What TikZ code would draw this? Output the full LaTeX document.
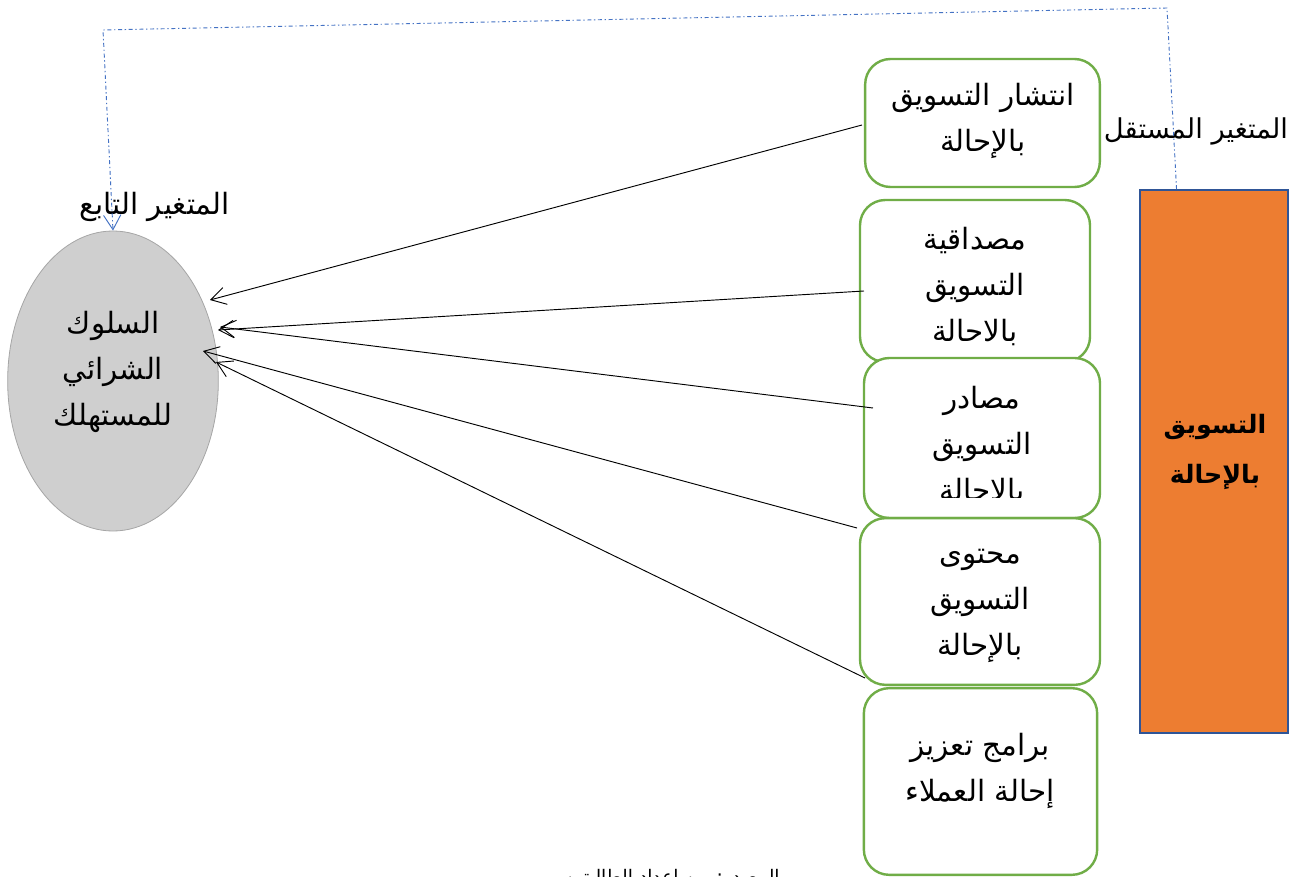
\documentclass[tikz,border=0pt]{standalone}
\usepackage{fontspec}
\TeXXeTstate=1
\newfontfamily\arabicfont[Script=Arabic]{DejaVu Sans}
\usetikzlibrary{shapes.geometric,arrows.meta,calc}
\newcommand\AR[1]{\beginR #1\endR}
\definecolor{boxgreen}{HTML}{70AD47}
\definecolor{orng}{HTML}{ED7D31}
\definecolor{rectblue}{HTML}{2F5597}
\definecolor{linkblue}{HTML}{4472C4}
\definecolor{ellgray}{HTML}{CFCFCF}
\definecolor{ellborder}{HTML}{A6A6A6}
\begin{document}
\begin{tikzpicture}[x=0.75pt,y=-0.75pt,
  artext/.style={font=\arabicfont\fontsize{22}{34.5}\selectfont, align=center, inner sep=0pt},
  greenbox/.style={draw=boxgreen, line width=1.8pt, rounded corners=19pt, fill=white, inner sep=0pt},
  feed/.style={draw=black, line width=0.7pt, -{Straight Barb[length=11pt,width=13pt]}},
  link/.style={draw=linkblue, line width=0.7pt, dash pattern=on 3pt off 2pt on 1pt off 2pt, -{Straight Barb[length=11pt,width=13pt]}}
]
\clip (0,0) rectangle (1291,877);
\fill[white] (0,0) rectangle (1291,877);

% dependent variable ellipse
\node[ellipse, draw=ellborder, fill=ellgray, line width=0.6pt, minimum width=158pt, minimum height=225pt, inner sep=0pt] (dv) at (113,381) {};
\node[artext] (dvtext) at (113,372) {\AR{السلوك}\\\AR{الشرائي}\\\AR{للمستهلك}};
\node[artext] (dvlab) at (155,207) {\AR{المتغير التابع}};

% independent variable bar
\node[draw=rectblue, fill=orng, line width=1.4pt, minimum width=111pt, minimum height=407pt, inner sep=0pt] (iv) at (1214,461.5) {};
\node[artext, font=\arabicfont\bfseries\fontsize{19}{37.5}\selectfont] (ivtext) at (1215,452) {\AR{التسويق}\\\AR{بالإحالة}};
\node[artext, font=\arabicfont\fontsize{20.5}{30}\selectfont] (ivlab) at (1196,131) {\AR{المتغير المستقل}};

% dimension boxes
\node[greenbox, minimum width=176pt, minimum height=96pt] (b1) at (982.5,123) {};
\node[greenbox, minimum width=172.5pt, minimum height=121.5pt] (b2) at (975,281) {};
\node[greenbox, minimum width=177pt, minimum height=120pt] (b3) at (982,438) {};
\node[greenbox, minimum width=180pt, minimum height=125pt] (b4) at (980,601.5) {};
\node[greenbox, minimum width=175pt, minimum height=140pt] (b5) at (980.5,781.5) {};

\node[artext] (t1) at (983,121) {\AR{انتشار التسويق}\\\AR{بالإحالة}};
\node[artext] (t2) at (975,287) {\AR{مصداقية}\\\AR{التسويق}\\\AR{بالاحالة}};
\begin{scope}
  \clip (860,358) rectangle (1100,497);
  \node[artext] (t3) at (982,446) {\AR{مصادر}\\\AR{التسويق}\\\AR{بالاحالة}};
\end{scope}
\node[artext] (t4) at (980,606) {\AR{محتوى}\\\AR{التسويق}\\\AR{بالإحالة}};
\node[artext] (t5) at (980,771) {\AR{برامج تعزيز}\\\AR{إحالة العملاء}};

% arrow ends
\coordinate (s1) at (862,125);
\coordinate (s2) at (864,291);
\coordinate (s3) at (873,408);
\coordinate (s4) at (857,528);
\coordinate (s5) at (865,678);
\coordinate (e1) at (210,300);
\coordinate (e2) at (218,330);
\coordinate (e3) at (220,327);
\coordinate (e4) at (203,351);
\coordinate (e5) at (216,362);
\draw[feed] (s1) -- (e1);
\draw[feed] (s2) -- (e2);
\draw[feed] (s3) -- (e3);
\draw[feed] (s4) -- (e4);
\draw[feed] (s5) -- (e5);

% dashed link from independent to dependent variable
\coordinate (ls) at ($(iv.north west)!0.25!(iv.north east)$);
\coordinate (c1) at (1167,8);
\coordinate (c2) at (103,30);
\draw[link] (ls) -- (c1) -- (c2) -- (dv.north);

% source line (cut at the bottom edge, as in the reference)
\node[artext, font=\arabicfont\fontsize{14}{18}\selectfont] (src) at (672,879) {\AR{المصدر: من إعداد الطالبتين}};
\end{tikzpicture}
\end{document}
